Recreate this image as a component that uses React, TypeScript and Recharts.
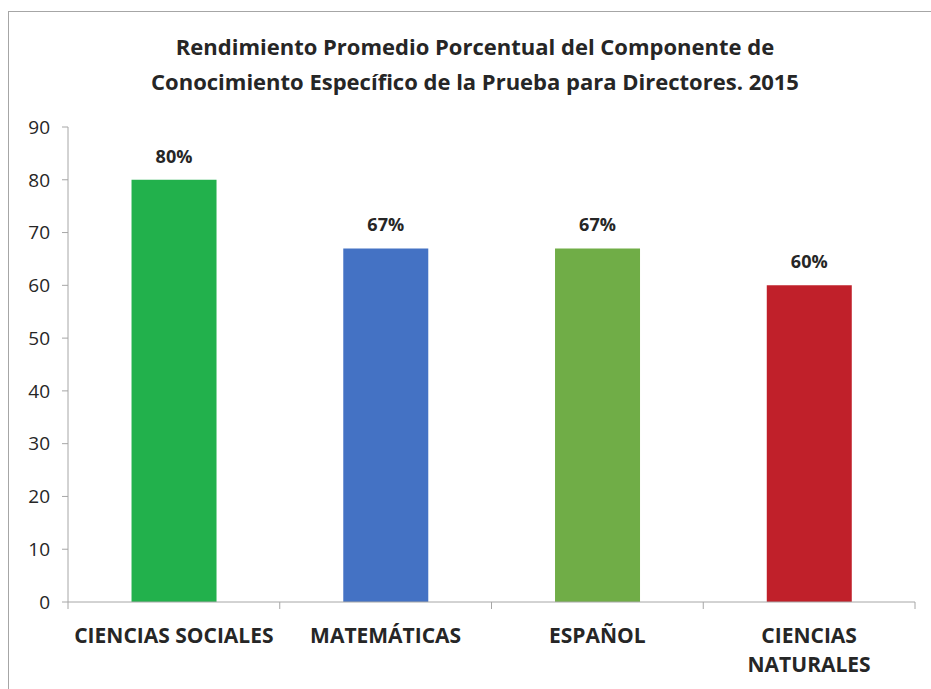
import { BarChart, Bar, XAxis, YAxis, Cell, LabelList } from "recharts";

const categories = ["CIENCIAS SOCIALES", "MATEMÁTICAS", "ESPAÑOL", "CIENCIAS NATURALES"];
const tickLines = [["CIENCIAS SOCIALES"], ["MATEMÁTICAS"], ["ESPAÑOL"], ["CIENCIAS", "NATURALES"]];
const values = [80, 67, 67, 60];
const barColors = ["#22b14c", "#4472c4", "#70ad47", "#c0202a"];
const yTicks = [0, 10, 20, 30, 40, 50, 60, 70, 80, 90];

const data = categories.map((name, i) => ({ name, value: values[i], idx: i }));

const FONT = "'Open Sans', 'Liberation Sans', sans-serif";
const CHART_W = 922;
const CHART_H = 677;
const PLOT_LEFT = 59;
const PLOT_RIGHT = 906;
const BAND = (PLOT_RIGHT - PLOT_LEFT) / categories.length;

function CategoryTick(props: any) {
  const { x, y, index } = props;
  const lines = tickLines[index] || [];
  const left = x - BAND / 2;
  const right = x + BAND / 2;
  return (
    <g>
      <line x1={left} y1={y - 8} x2={left} y2={y - 1} stroke="#a6a6a6" strokeWidth={1} />
      {index === categories.length - 1 && (
        <line x1={right} y1={y - 8} x2={right} y2={y - 1} stroke="#a6a6a6" strokeWidth={1} />
      )}
      {lines.map((l: string, i: number) => (
        <text
          key={i}
          x={x}
          y={y + 33 + i * 29}
          textAnchor="middle"
          fontFamily={FONT}
          fontWeight={700}
          fontSize={21}
          fill="#262626"
        >
          {l}
        </text>
      ))}
    </g>
  );
}

export default function App() {
  return (
    <div
      style={{
        position: "absolute",
        left: 8,
        top: 11,
        width: 940,
        height: 700,
        borderLeft: "1px solid #a6a6a6",
        borderTop: "1px solid #a6a6a6",
        background: "#fff",
        fontFamily: FONT,
      }}
    >
      <div
        style={{
          position: "absolute",
          left: 0,
          top: 17,
          width: 932,
          textAlign: "center",
          fontWeight: 700,
          fontSize: 22,
          lineHeight: "35px",
          color: "#262626",
        }}
      >
        Rendimiento Promedio Porcentual del Componente de
        <br />
        Conocimiento Específico de la Prueba para Directores. 2015
      </div>
      <BarChart
        width={CHART_W}
        height={CHART_H}
        data={data}
        margin={{ top: 115, right: CHART_W - PLOT_RIGHT, bottom: 27, left: 9 }}
        barCategoryGap="30%"
      >
        <XAxis
          dataKey="name"
          height={60}
          axisLine={{ stroke: "#a6a6a6" }}
          tickLine={false}
          tick={<CategoryTick />}
          interval={0}
        />
        <YAxis
          width={50}
          domain={[0, 90]}
          ticks={yTicks}
          interval={0}
          axisLine={{ stroke: "#a6a6a6" }}
          tickLine={{ stroke: "#a6a6a6" }}
          tickSize={6}
          tick={{ fill: "#262626", fontSize: 19, fontFamily: FONT, dx: -10 }}
        />
        <Bar dataKey="value" isAnimationActive={false}>
          {data.map((d, i) => (
            <Cell key={d.name} fill={barColors[i]} />
          ))}
          <LabelList
            dataKey="value"
            position="top"
            offset={17}
            formatter={(v: any) => `${v}%`}
            style={{ fill: "#262626", fontWeight: 700, fontSize: 18, fontFamily: FONT }}
          />
        </Bar>
      </BarChart>
    </div>
  );
}
